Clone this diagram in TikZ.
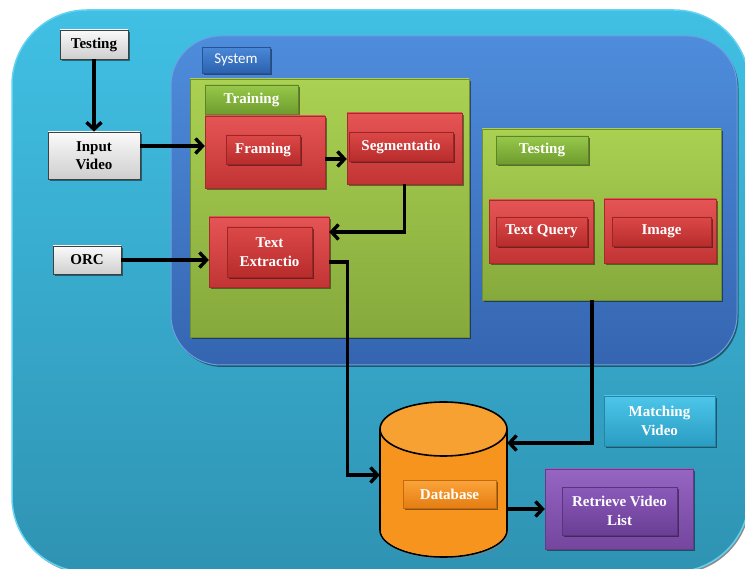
\documentclass[tikz,border=0pt]{standalone}
\usepackage{fontspec}
\setmainfont{Liberation Serif}
\newfontfamily\carlfont{Carlito}
\usetikzlibrary{arrows.meta,shadows}
\definecolor{cyanT}{HTML}{40C0E4}
\definecolor{cyanB}{HTML}{2F93B3}
\definecolor{cyanRim}{HTML}{62D2F0}
\definecolor{blueT}{HTML}{4E8DDC}
\definecolor{blueB}{HTML}{3565B0}
\definecolor{blueRim}{HTML}{6E9FE2}
\definecolor{greenT}{HTML}{AAD152}
\definecolor{greenB}{HTML}{86A93C}
\definecolor{glT}{HTML}{98C84A}
\definecolor{glB}{HTML}{6E9C2E}
\definecolor{redT}{HTML}{E65555}
\definecolor{redB}{HTML}{C23434}
\definecolor{riT}{HTML}{DC4848}
\definecolor{riB}{HTML}{B82C2C}
\definecolor{blT}{HTML}{4A88D8}
\definecolor{blB}{HTML}{2C62AE}
\definecolor{purT}{HTML}{9565C2}
\definecolor{purB}{HTML}{74469E}
\definecolor{piT}{HTML}{8A5ABA}
\definecolor{piB}{HTML}{6A3E94}
\definecolor{matT}{HTML}{4CC6EA}
\definecolor{matB}{HTML}{2A9CC2}
\definecolor{orgBody}{HTML}{F7941E}
\definecolor{orgTop}{HTML}{F8A133}
\definecolor{dbT}{HTML}{FBA43A}
\definecolor{dbB}{HTML}{E57D12}
\tikzset{
  every node/.style={inner sep=0pt, align=center},
  shad/.style={drop shadow={shadow xshift=1.5pt, shadow yshift=-2pt, opacity=0.45, fill=black}},
  txt/.style={font=\fontsize{15}{18.5}\selectfont\bfseries},
  wtxt/.style={txt, text=white},
  outerbox/.style={rounded corners=75pt, top color=cyanT, bottom color=cyanB, draw=cyanRim, line width=1.5pt, shad},
  sysbox/.style={rounded corners=50pt, top color=blueT, bottom color=blueB, draw=blueRim, line width=1pt, shad},
  greenbox/.style={top color=greenT, bottom color=greenB, draw=greenB!85!black, line width=0.4pt, shad},
  greenlbl/.style={top color=glT, bottom color=glB, draw=glB!85!black, line width=0.4pt, shad, wtxt},
  redout/.style={top color=redT, bottom color=redB, draw=redB!85!black, line width=0.4pt, shad},
  redin/.style={top color=riT, bottom color=riB, draw=riB!85!black, line width=0.4pt, shad, wtxt},
  bluelbl/.style={top color=blT, bottom color=blB, draw=blB!85!black, line width=0.4pt, shad, text=white, font=\carlfont\fontsize{15}{18}\selectfont},
  greybox/.style={top color=gray!4, bottom color=gray!38, draw=black!75, line width=0.8pt, shad, txt, text=black},
  purout/.style={top color=purT, bottom color=purB, draw=purB!85!black, line width=0.4pt, shad},
  purin/.style={top color=piT, bottom color=piB, draw=piB!85!black, line width=0.4pt, shad, wtxt},
  matbox/.style={top color=matT, bottom color=matB, draw=matB!85!black, line width=0.4pt, shad, wtxt},
  dblbl/.style={top color=dbT, bottom color=dbB, draw=dbB!85!black, line width=0.4pt, shad, wtxt},
  arr/.style={line width=3.4pt, -{Straight Barb[length=7pt,width=15pt]}}
}
\begin{document}
\begin{tikzpicture}[x=1pt,y=-1pt]
\useasboundingbox (0,0) rectangle (745,569);
% outer background
\node[outerbox, minimum width=737, minimum height=562] (outer) at (380.5,291) {};
% system
\node[sysbox, minimum width=566, minimum height=329] (sys) at (454,200.5) {};
\node[bluelbl, minimum width=68, minimum height=26] (syslbl) at (236,60) {System};
% training
\node[greenbox, minimum width=279, minimum height=258] (train) at (329.5,208) {};
\node[greenlbl, minimum width=93, minimum height=29] (trainlbl) at (251.5,99.5) {Training};
\node[redout, minimum width=120, minimum height=72] (framo) at (265,152) {};
\node[redin, minimum width=74, minimum height=29] (frami) at (263,149.5) {Framing};
\node[redout, minimum width=115, minimum height=71] (sego) at (404.5,148.5) {};
\node[redin, minimum width=104, minimum height=29] (segi) at (401,146.5) {Segmentatio};
\node[redout, minimum width=120, minimum height=70] (texo) at (269,252) {};
\node[redin, minimum width=85, minimum height=50] (texi) at (269.5,252) {Text\\Extractio};
% testing (system)
\node[greenbox, minimum width=239, minimum height=171] (testg) at (601.5,214.5) {};
\node[greenlbl, minimum width=92, minimum height=28] (testlbl) at (542,150) {Testing};
\node[redout, minimum width=104, minimum height=63] (tqo) at (541,231.5) {};
\node[redin, minimum width=91, minimum height=29] (tqi) at (541.5,231.5) {Text Query};
\node[redout, minimum width=112, minimum height=64] (imgo) at (660,231) {};
\node[redin, minimum width=99, minimum height=29] (imgi) at (661.5,231.5) {Image};
% left inputs
\node[greybox, minimum width=68, minimum height=29] (testin) at (94,44.5) {Testing};
\node[greybox, minimum width=92, minimum height=47] (input) at (94,155.5) {Input\\Video};
\node[greybox, minimum width=68, minimum height=28] (orc) at (87,260) {ORC};
% database cylinder
\node[minimum width=127, minimum height=155] (db) at (443.5,479.5) {};
\fill[black!50, opacity=0.45] (445.5,532) ellipse [x radius=63.5, y radius=27];
\fill[orgBody] (443.5,530) ellipse [x radius=63.5, y radius=27];
\draw[line width=1.6pt] (443.5,530) ellipse [x radius=63.5, y radius=27];
\fill[orgBody] (380,429) rectangle (507,530);
\fill[orgBody] (443.5,530) ellipse [x radius=62.5, y radius=26];
\draw[line width=1.6pt] (380,429) -- (380,530);
\draw[line width=1.6pt] (507,429) -- (507,530);
\filldraw[fill=orgTop, line width=1.6pt] (443.5,429) ellipse [x radius=63.5, y radius=27];
\node[dblbl, minimum width=93, minimum height=28] (dblab) at (449.5,494) {Database};
% right side boxes
\node[matbox, minimum width=111, minimum height=50] (match) at (659.5,421) {Matching\\Video};
\node[purout, minimum width=148, minimum height=80] (reto) at (619,509) {};
\node[purin, minimum width=115, minimum height=48] (reti) at (619.5,511) {Retrieve Video\\List};
% connectors
\draw[arr] (testin.south) -- (input.north);
\draw[arr] (input.east |- 0,146) -- (framo.west |- 0,146);
\draw[arr] (framo.east |- 0,159) -- (sego.west |- 0,159);
\draw[arr] (sego.south) |- ([yshift=20pt]texo.east);
\draw[arr] (orc.east) -- (texo.west |- orc.east);
\draw[arr] ([yshift=-10pt]texo.east) -- ++(18,0) |- (db.west |- 0,475);
\draw[arr] ([xshift=-9.5pt]testg.south) |- (db.east |- 0,443);
\draw[arr] (db.east |- reto.west) -- (reto.west);
\end{tikzpicture}
\end{document}
